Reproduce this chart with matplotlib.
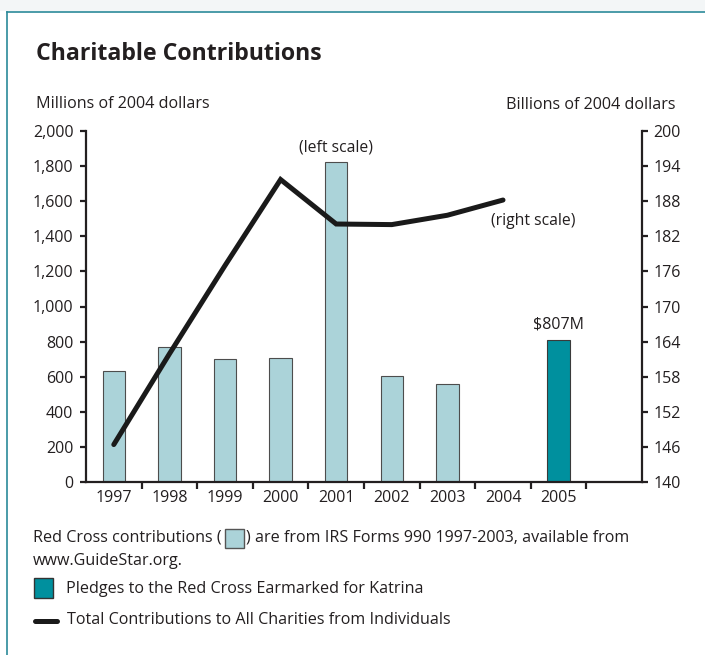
import numpy as np
import matplotlib
matplotlib.use("Agg")
import matplotlib.pyplot as plt
from matplotlib.patches import Rectangle
from matplotlib.lines import Line2D

plt.rcParams['font.family'] = ['Open Sans', 'DejaVu Sans']

# data
years = ['1997', '1998', '1999', '2000', '2001', '2002', '2003', '2004', '2005']
red_cross = [632, 771, 703, 708, 1825, 604, 560, np.nan, np.nan]   # millions, left scale
katrina = [np.nan] * 8 + [807]                                      # millions, left scale
individuals = [146.4, 161.9, 177.0, 191.7, 184.1, 184.0, 185.6, 188.2]  # billions, right scale

W, H = 705, 655
TXT = '#231f20'
LIGHT = '#abd3d9'
TEAL = '#00909e'

def fx(px):
    return px / W

def fy(py):
    return 1 - py / H

fig = plt.figure(figsize=(7.05, 6.55), dpi=100)

# outer frame: light band above, teal rule top and left
fig.patches.append(Rectangle((0, fy(11)), 1, 1 - fy(11), transform=fig.transFigure,
                             facecolor='#f3f6f7', edgecolor='none', zorder=0))
fig.lines.append(Line2D([fx(7), 1], [fy(12), fy(12)], transform=fig.transFigure,
                        color='#2b8a99', lw=1.2))
fig.lines.append(Line2D([fx(7), fx(7)], [0, fy(12)], transform=fig.transFigure,
                        color='#2b8a99', lw=1.2))

ax = fig.add_axes([fx(86), fy(482), fx(642) - fx(86), fy(131) - fy(482)])
ax2 = ax.twinx()

x = np.arange(len(years))
ax.bar(x, red_cross, width=0.4, color=LIGHT, edgecolor='#4d4d4d', linewidth=0.8, zorder=2)
ax.bar(x, katrina, width=0.4, color=TEAL, edgecolor='#3a3a3a', linewidth=0.8, zorder=2)
ax.set_xlim(-0.5, 9.5)
ax.set_ylim(0, 2000)
ax.set_yticks(np.arange(0, 2001, 200))
ax.set_yticklabels([f'{v:,}' for v in range(0, 2001, 200)])
ax.set_xticks(x)
ax.set_xticklabels(years)
ax.set_xticks(np.arange(0.5, 9, 1), minor=True)

ax2.plot(x[:len(individuals)], individuals, color='#1a1a1a', lw=3.6,
         solid_joinstyle='miter', solid_capstyle='round', zorder=3)
ax2.set_ylim(140, 200)
ax2.set_yticks(np.arange(140, 201, 6))

for a in (ax, ax2):
    a.patch.set_visible(False)
    for s in a.spines.values():
        s.set_linewidth(1.6)
        s.set_color('#231f20')
    a.spines['top'].set_visible(False)
ax.spines['right'].set_visible(False)
ax2.spines['left'].set_visible(False)
ax2.spines['bottom'].set_visible(False)

ax.tick_params(axis='y', length=4, width=1.6, labelsize=11.5, colors=TXT, pad=5)
ax.tick_params(axis='x', which='major', length=0, labelsize=11.5, colors=TXT, pad=6)
ax.tick_params(axis='x', which='minor', length=5, width=1.6, color=TXT)
ax2.tick_params(axis='y', length=4, width=1.6, labelsize=11.5, colors=TXT, pad=4)

ax.text(4, 1905, '(left scale)', ha='center', va='center', fontsize=11.3, color=TXT)
ax2.text(7.55, 184.7, '(right scale)', ha='center', va='center', fontsize=11.3, color=TXT)
ax.text(8, 900, '$807M', ha='center', va='center', fontsize=11.5, color=TXT)

fig.text(fx(36), fy(54), 'Charitable Contributions', fontsize=16.7, fontweight='bold',
         color=TXT, va='center', ha='left')
fig.text(fx(36), fy(104), 'Millions of 2004 dollars', fontsize=11.6, color=TXT,
         va='center', ha='left')
fig.text(fx(675), fy(105), 'Billions of 2004 dollars', fontsize=11.6, color=TXT,
         va='center', ha='right')

# notes / legend under the chart
fs = 11.6
t1 = fig.text(fx(33), fy(538), 'Red Cross contributions (', fontsize=fs, color=TXT,
              va='center', ha='left')
fig.canvas.draw()
bb = t1.get_window_extent()
bx = bb.x1 + 3
fig.patches.append(Rectangle((bx / W, fy(548)), 19 / W, 19 / H, transform=fig.transFigure,
                             facecolor=LIGHT, edgecolor='#555555', lw=1.0))
fig.text((bx + 21) / W, fy(538),
         ') are from IRS Forms 990 1997-2003, available from', fontsize=fs, color=TXT,
         va='center', ha='left')
fig.text(fx(33), fy(561), 'www.GuideStar.org.', fontsize=fs, color=TXT, va='center', ha='left')

fig.patches.append(Rectangle((fx(34), fy(598)), 19 / W, 20 / H, transform=fig.transFigure,
                             facecolor=TEAL, edgecolor='#333333', lw=1.0))
fig.text(fx(66), fy(589), 'Pledges to the Red Cross Earmarked for Katrina', fontsize=fs,
         color=TXT, va='center', ha='left')

fig.lines.append(Line2D([fx(35), fx(57)], [fy(621), fy(621)], transform=fig.transFigure,
                        color='#1a1a1a', lw=3.6, solid_capstyle='round'))
fig.text(fx(67), fy(620), 'Total Contributions to All Charities from Individuals', fontsize=fs,
         color=TXT, va='center', ha='left')

fig.savefig('out.png', dpi=100)
